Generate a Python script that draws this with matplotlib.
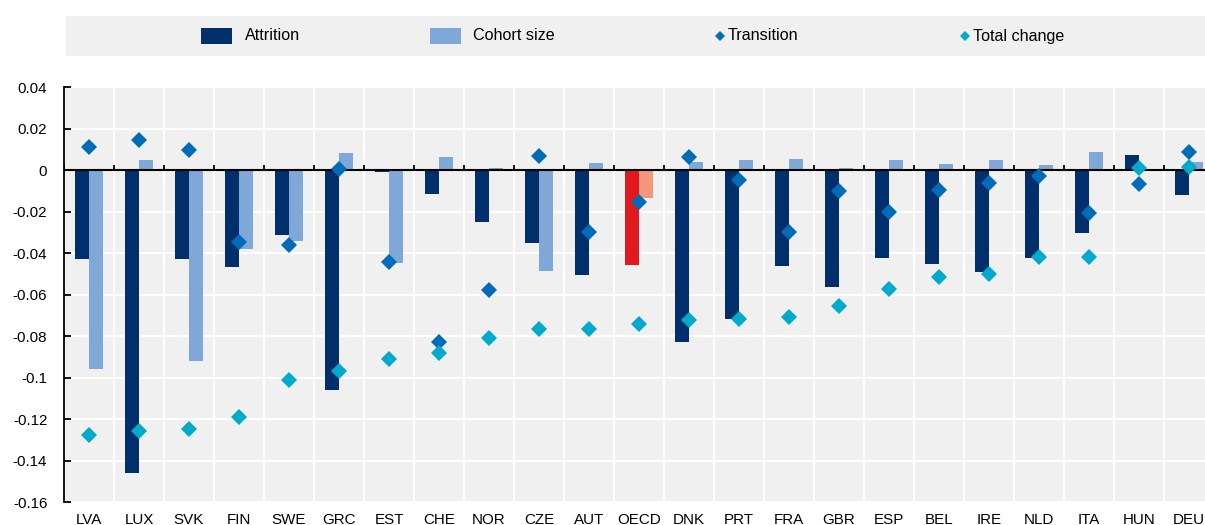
import numpy as np
import matplotlib
matplotlib.use('Agg')
import matplotlib.pyplot as plt
from matplotlib.patches import Rectangle
from matplotlib.lines import Line2D
from matplotlib.ticker import FuncFormatter

countries = ['LVA', 'LUX', 'SVK', 'FIN', 'SWE', 'GRC', 'EST', 'CHE', 'NOR', 'CZE', 'AUT', 'OECD',
             'DNK', 'PRT', 'FRA', 'GBR', 'ESP', 'BEL', 'IRE', 'NLD', 'ITA', 'HUN', 'DEU']
attrition = [-0.043, -0.146, -0.043, -0.0467, -0.0315, -0.106, -0.001, -0.0117, -0.025, -0.035, -0.0506, -0.046,
             -0.083, -0.072, -0.0463, -0.0564, -0.0423, -0.0455, -0.0492, -0.0423, -0.0305, 0.0072, -0.012]
cohort_size = [-0.0957, 0.0047, -0.092, -0.038, -0.034, 0.008, -0.045, 0.0063, 0.001, -0.0487, 0.0034, -0.0133,
               0.0039, 0.0047, 0.0053, 0.0008, 0.0047, 0.003, 0.0048, 0.0026, 0.0088, 0.0, 0.004]
transition = [0.011, 0.0146, 0.0098, -0.0345, -0.036, 0.0005, -0.0445, -0.083, -0.058, 0.0069, -0.0297, -0.0154,
              0.0063, -0.0048, -0.030, -0.0101, -0.020, -0.0095, -0.0063, -0.0029, -0.0206, -0.0069, 0.0088]
total_change = [-0.1275, -0.126, -0.125, -0.119, -0.101, -0.097, -0.091, -0.088, -0.081, -0.0765, -0.0765, -0.074,
                -0.0723, -0.072, -0.0707, -0.0654, -0.0572, -0.0514, -0.0503, -0.042, -0.042, 0.0008, 0.0014]

c_attr = '#002F6C'
c_coh = '#7FA8D9'
c_tr = '#006BB6'
c_tot = '#00AACC'
c_attr_oecd = '#E0191F'
c_coh_oecd = '#F4977A'
bg = '#F0F0F0'

W, H = 1205, 525
fig = plt.figure(figsize=(W / 100, H / 100), dpi=100)
ax = fig.add_axes([64 / W, 23 / H, 1150 / W, 415 / H])
ax.set_facecolor(bg)

x = np.arange(len(countries))
bw = 0.28
col_a = [c_attr_oecd if c == 'OECD' else c_attr for c in countries]
col_c = [c_coh_oecd if c == 'OECD' else c_coh for c in countries]
ax.bar(x - bw / 2, attrition, bw, color=col_a, zorder=2)
ax.bar(x + bw / 2, cohort_size, bw, color=col_c, zorder=2)
ax.axhline(0, color='black', lw=1.5, zorder=3)
# small tick marks on the zero line between countries
ax.vlines(np.arange(len(countries) + 1) - 0.5, 0, 0.0024, color='black', lw=1.3, zorder=3)
ax.plot(x, transition, 'D', color=c_tr, ms=8, mew=0, zorder=4)
ax.plot(x, total_change, 'D', color=c_tot, ms=8, mew=0, zorder=5)

ax.set_xlim(-0.5, len(countries) - 0.5)
ax.set_ylim(-0.16, 0.04)
ax.set_yticks(np.arange(-0.16, 0.041, 0.02))
ax.yaxis.set_major_formatter(FuncFormatter(lambda v, p: '0' if abs(v) < 1e-9 else '%g' % round(v, 2)))
ax.set_xticks(x)
ax.set_xticklabels(countries)
ax.set_xticks(np.arange(len(countries) + 1) - 0.5, minor=True)
ax.tick_params(axis='x', which='both', length=0, pad=8, labelsize=10.9)
ax.tick_params(axis='y', direction='in', length=5, width=1.3, pad=12, labelsize=10.9)
for lab in ax.get_xticklabels() + ax.get_yticklabels():
    lab.set_fontfamily('Liberation Sans')
ax.grid(which='minor', axis='x', color='white', lw=1.5, zorder=1)
ax.grid(which='major', axis='y', color='white', lw=1.5, zorder=1)
ax.set_axisbelow(True)
for s in ['top', 'right', 'bottom']:
    ax.spines[s].set_visible(False)
ax.spines['left'].set_linewidth(1.3)

# legend band
fig.add_artist(Rectangle((66 / W, 1 - 56 / H), 1 - 66 / W, 40 / H, transform=fig.transFigure,
                         facecolor=bg, edgecolor='none'))
lf = dict(family=['Liberation Sans Narrow', 'Liberation Sans'], size=11.6, va='center', ha='left')
yc = 1 - 36 / H
fig.add_artist(Rectangle((201 / W, 1 - 44 / H), 31 / W, 16 / H, transform=fig.transFigure, facecolor=c_attr))
fig.text(245 / W, yc, 'Attrition', **lf)
fig.add_artist(Rectangle((430 / W, 1 - 44 / H), 31 / W, 16 / H, transform=fig.transFigure, facecolor=c_coh))
fig.text(473 / W, yc, 'Cohort size', **lf)
fig.add_artist(Line2D([720 / W], [yc], marker='D', color=c_tr, ms=5.3, mew=0, transform=fig.transFigure))
fig.text(728 / W, yc, 'Transition', **lf)
fig.add_artist(Line2D([965 / W], [yc], marker='D', color=c_tot, ms=5.3, mew=0, transform=fig.transFigure))
fig.text(973 / W, yc, 'Total change', **lf)

fig.savefig('out.png', dpi=100)
